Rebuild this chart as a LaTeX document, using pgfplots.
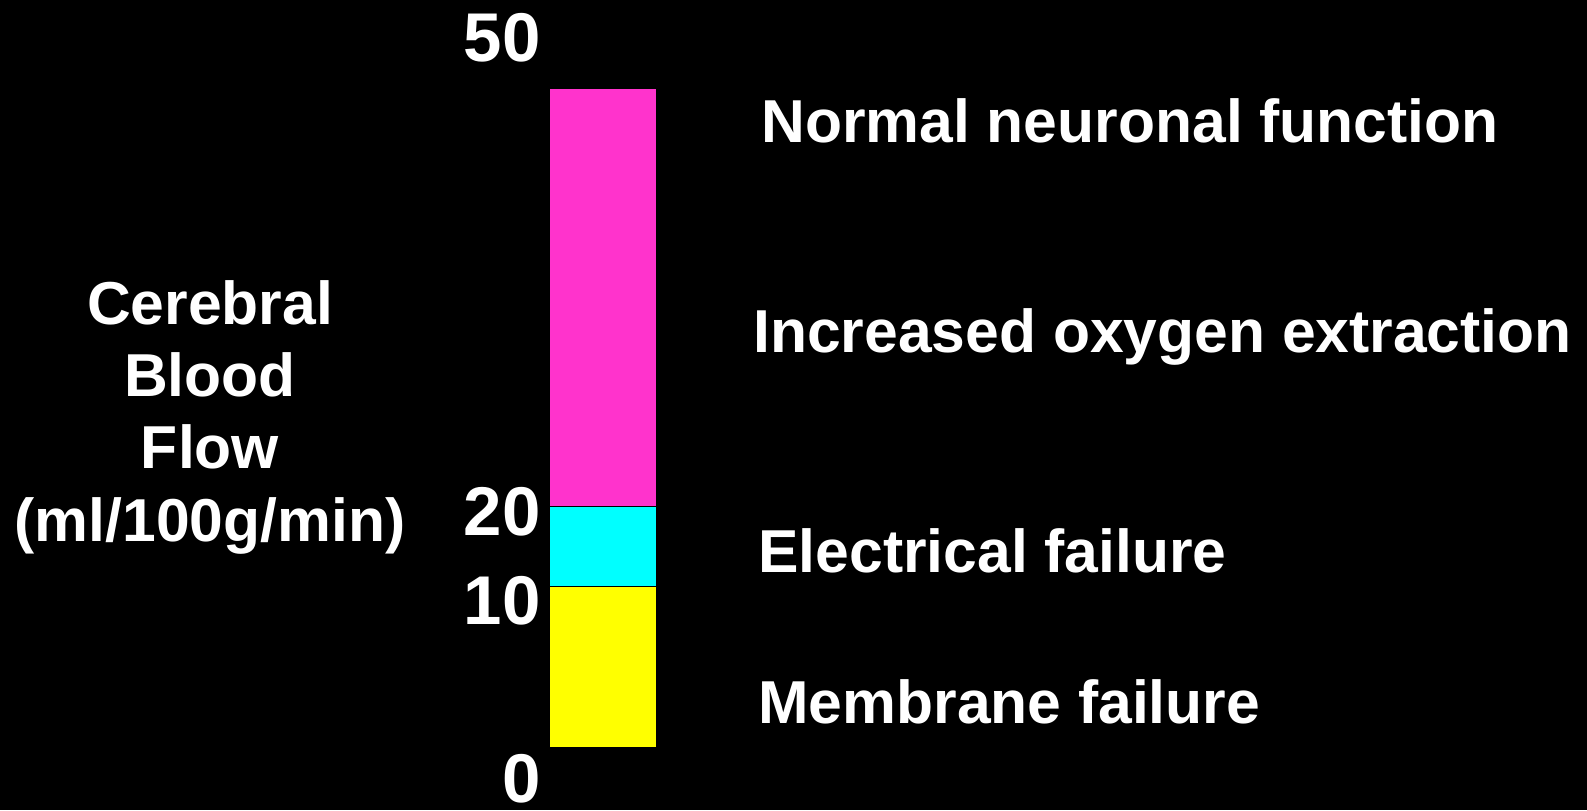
\documentclass[border=0pt]{standalone}
\usepackage{pgfplots}
\pgfplotsset{compat=1.18}
\usepackage{fontspec}
\setmainfont{Liberation Sans}
\definecolor{segMag}{RGB}{255,51,204}
\definecolor{segCyan}{RGB}{0,255,255}
\definecolor{segYel}{RGB}{255,255,0}
\begin{document}
\begin{tikzpicture}
\fill[black] (0,0) rectangle (793.5pt,405pt);
\useasboundingbox (0,0) rectangle (793.5pt,405pt);
\begin{axis}[
  at={(274.5pt,0pt)}, anchor=south west,
  scale only axis, width=53.5pt, height=405pt,
  xmin=0, xmax=1, ymin=-3.9375, ymax=56.301,
  y coord trafo/.code={\pgfmathparse{ifthenelse(#1<10, 16*#1, ifthenelse(#1<20, 160+8*(#1-10), 240+419/30*(#1-20)))}},
  axis line style={draw=none},
  xtick=\empty,
  ytick={-2.0,9.125,19.375,53.58},
  yticklabels={0\hspace{4pt},10,20,50\hspace{8pt}},
  major tick length=0pt,
  yticklabel style={anchor=east, inner sep=0pt, xshift=-4pt, text=white, font=\fontsize{34.5}{40}\selectfont\bfseries},
  clip=false,
]
\addplot[fill=segYel, draw=black, line width=0.5pt] coordinates {(0,0) (1,0) (1,10) (0,10)} -- cycle;
\addplot[fill=segCyan, draw=black, line width=0.5pt] coordinates {(0,10) (1,10) (1,20) (0,20)} -- cycle;
\addplot[fill=segMag, draw=black, line width=0.5pt] coordinates {(0,20) (1,20) (1,50) (0,50)} -- cycle;
\end{axis}
\tikzset{lab/.style={text=white, inner sep=0pt, font=\fontsize{30.3}{36}\selectfont\bfseries}}
\node[lab, anchor=base] at (105pt,242.5pt) {Cerebral};
\node[lab, anchor=base] at (105pt,206.5pt) {Blood};
\node[lab, anchor=base] at (105pt,170.5pt) {Flow};
\node[lab, anchor=base] at (105pt,134.5pt) {(ml/100g/min)};
\node[lab, anchor=base west] at (380.5pt,333.5pt) {Normal neuronal function};
\node[lab, anchor=base west] at (376.5pt,228.5pt) {Increased oxygen extraction};
\node[lab, anchor=base west] at (379pt,118.5pt) {Electrical failure};
\node[lab, anchor=base west] at (379pt,43.5pt) {Membrane failure};
\end{tikzpicture}
\end{document}
